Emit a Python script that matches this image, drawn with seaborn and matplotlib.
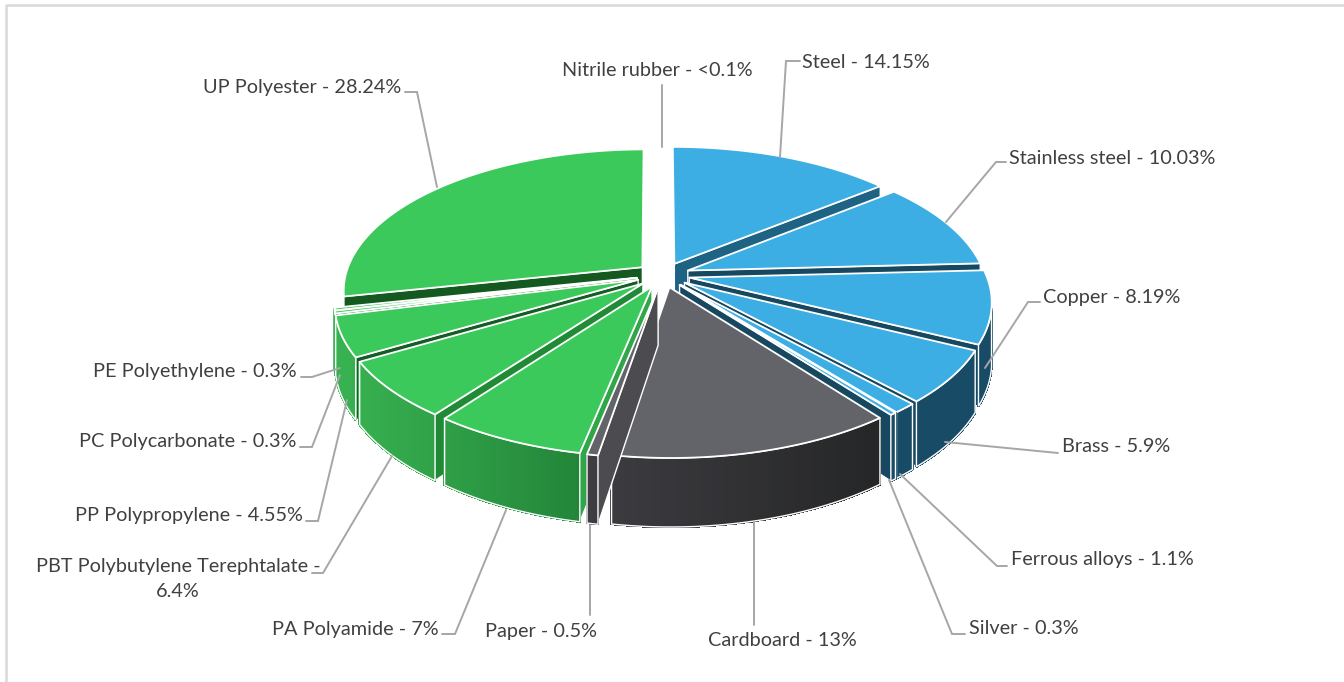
import numpy as np
import matplotlib
matplotlib.use("Agg")
import matplotlib.pyplot as plt
import seaborn as sns

# Material shares, clockwise from twelve o'clock
materials = ["Steel", "Stainless steel", "Copper", "Brass", "Ferrous alloys", "Silver",
             "Cardboard", "Paper", "PA Polyamide", "PBT Polybutylene Terephtalate",
             "PP Polypropylene", "PC Polycarbonate", "PE Polyethylene", "UP Polyester",
             "Nitrile rubber"]
shares = [14.15, 10.03, 8.19, 5.9, 1.1, 0.3, 13, 0.5, 7, 6.4, 4.55, 0.3, 0.3, 28.24, 0.1]
share_labels = ["14.15%", "10.03%", "8.19%", "5.9%", "1.1%", "0.3%", "13%", "0.5%", "7%",
                "6.4%", "4.55%", "0.3%", "0.3%", "28.24%", "<0.1%"]
families = ["metal"] * 6 + ["fibre"] * 2 + ["plastic"] * 6 + ["none"]

TOP = {"metal": "#3daee3", "fibre": "#636469", "plastic": "#3cc95c", "none": "#ffffff"}
# Outer wall colours: (colour at left, colour at right, x of left, x of right)
WALL = {"metal": ("#184b66", "#184b66", 880, 1000),
        "fibre": ("#3e3d42", "#252627", 585, 880),
        "plastic": ("#38b250", "#23853a", 345, 580),
        "none": ("#ffffff", "#ffffff", 0, 1)}
CUT = ["#1f6384", "#174860", "#174860", "#174860", "#174860", "#174860",
       "#3a3a3f", "#4b4b50", "#2fa648", "#218a36", "#145d24", "#145d24", "#145d24",
       "#145a20", "#ffffff"]

# Label text position (x, y, ha) and leader polyline for each slice
label_pos = [(802, 63, "left"), (1009, 158, "left"), (1043, 298, "left"), (1062, 447, "left"),
             (1011, 560, "left"), (969, 629, "left"), (782, 641, "center"), (541, 631, "center"),
             (439, 630, "right"), (178, 579, "center"), (303, 516, "right"), (296, 442, "right"),
             (297, 372, "right"), (401, 88, "right"), (657, 71, "center")]
leaders = [[(780, 157), (786, 61), (800, 61)],
           [(946, 222), (996, 162), (1006, 162)],
           [(985, 368), (1028, 302), (1040, 302)],
           [(945, 442), (1058, 453)],
           [(900, 474), (997, 566), (1007, 566)],
           [(889, 480), (952, 634), (965, 634)],
           [(754, 522), (754, 625)],
           [(590, 525), (590, 615)],
           [(506, 510), (455, 634), (442, 634)],
           [(392, 456), (323, 573), (312, 573)],
           [(347, 400), (318, 521), (306, 521)],
           [(340, 375), (312, 447), (300, 447)],
           [(340, 368), (312, 377), (301, 377)],
           [(437, 187), (417, 92), (405, 92)],
           [(662, 147), (662, 85)]]

# Projection of the exploded disc
CX, CY, RX, RY = 663, 275, 297, 139
TILT, DEPTH, PULL = 0.16, 57, 0.09


def project(x, y, z=0.0):
    w = 1.0 / (1.0 + TILT * y)
    return CX + RX * x * w, CY - RY * y * w + DEPTH * z * w


def lerp_hex(a, b, t):
    ca, cb = np.array(matplotlib.colors.to_rgb(a)), np.array(matplotlib.colors.to_rgb(b))
    return tuple(ca + (cb - ca) * np.clip(t, 0, 1))


sns.set_theme(style="white")
plt.rcParams["font.family"] = ["Lato", "DejaVu Sans"]

fig, ax = plt.subplots(figsize=(13.44, 6.82), dpi=100)
fig.subplots_adjust(0, 0, 1, 1)
ax.set_xlim(0, 1344)
ax.set_ylim(682, 0)
ax.axis("off")

values = np.array(shares, dtype=float)
edges = np.concatenate([[0], np.cumsum(values)]) / values.sum() * 2 * np.pi
mids = (edges[:-1] + edges[1:]) / 2

# Painter's order: far slices first
for i in np.argsort(-np.cos(mids)):
    fam = families[i]
    a0, a1, m = edges[i], edges[i + 1], mids[i]
    tx, ty = PULL * np.sin(m), PULL * np.cos(m)
    arc = np.linspace(a0, a1, max(4, int((a1 - a0) * 60)))
    white = "#ffffff" if fam != "none" else "none"

    # cut faces that turn towards the viewer
    for ang, show in ((a0, a0 > np.pi), (a1, a1 < np.pi)):
        if not show:
            continue
        ox, oy = tx + np.sin(ang), ty + np.cos(ang)
        poly = [project(tx, ty), project(ox, oy), project(ox, oy, 1), project(tx, ty, 1)]
        ax.fill(*zip(*poly), fc=CUT[i], ec=white, lw=1.0, joinstyle="round")

    # outer rim with a horizontal colour ramp, front-facing part only
    rim = arc[np.cos(arc) < -0.21]
    if len(rim) > 1:
        upper = [project(tx + np.sin(t), ty + np.cos(t)) for t in rim]
        lower = [project(tx + np.sin(t), ty + np.cos(t), 1) for t in rim]
        left, right, xl, xr = WALL[fam]
        for k in range(len(rim) - 1):
            quad = [upper[k], upper[k + 1], lower[k + 1], lower[k]]
            col = lerp_hex(left, right, ((upper[k][0] + upper[k + 1][0]) / 2 - xl) / (xr - xl))
            ax.fill(*zip(*quad), fc=col, ec=col, lw=1.0, antialiased=False)
        ax.fill(*zip(*(upper + lower[::-1])), fc="none", ec=white, lw=1.0)

    # top face
    face = [project(tx, ty)] + [project(tx + np.sin(t), ty + np.cos(t)) for t in arc]
    ax.fill(*zip(*face), fc=TOP[fam], ec=white, lw=1.3, joinstyle="round")

# Leader lines and labels
for i, name in enumerate(materials):
    ax.plot(*zip(*leaders[i]), color="#a6a6a6", lw=1.4, solid_joinstyle="miter", zorder=20)
    x, y, ha = label_pos[i]
    text = f"{name} - {share_labels[i]}"
    if name.startswith("PBT"):
        text = f"{name} -\n{share_labels[i]}"
    ax.text(x, y, text, ha=ha, va="center", fontsize=14.3, color="#404040", zorder=21,
            linespacing=1.55, multialignment="center")

# Chart frame, top and left sides only
ax.plot([6, 6, 1344], [682, 5, 5], color="#d9d9d9", lw=1.8, zorder=1)

fig.savefig("out.png", dpi=100, facecolor="white")
